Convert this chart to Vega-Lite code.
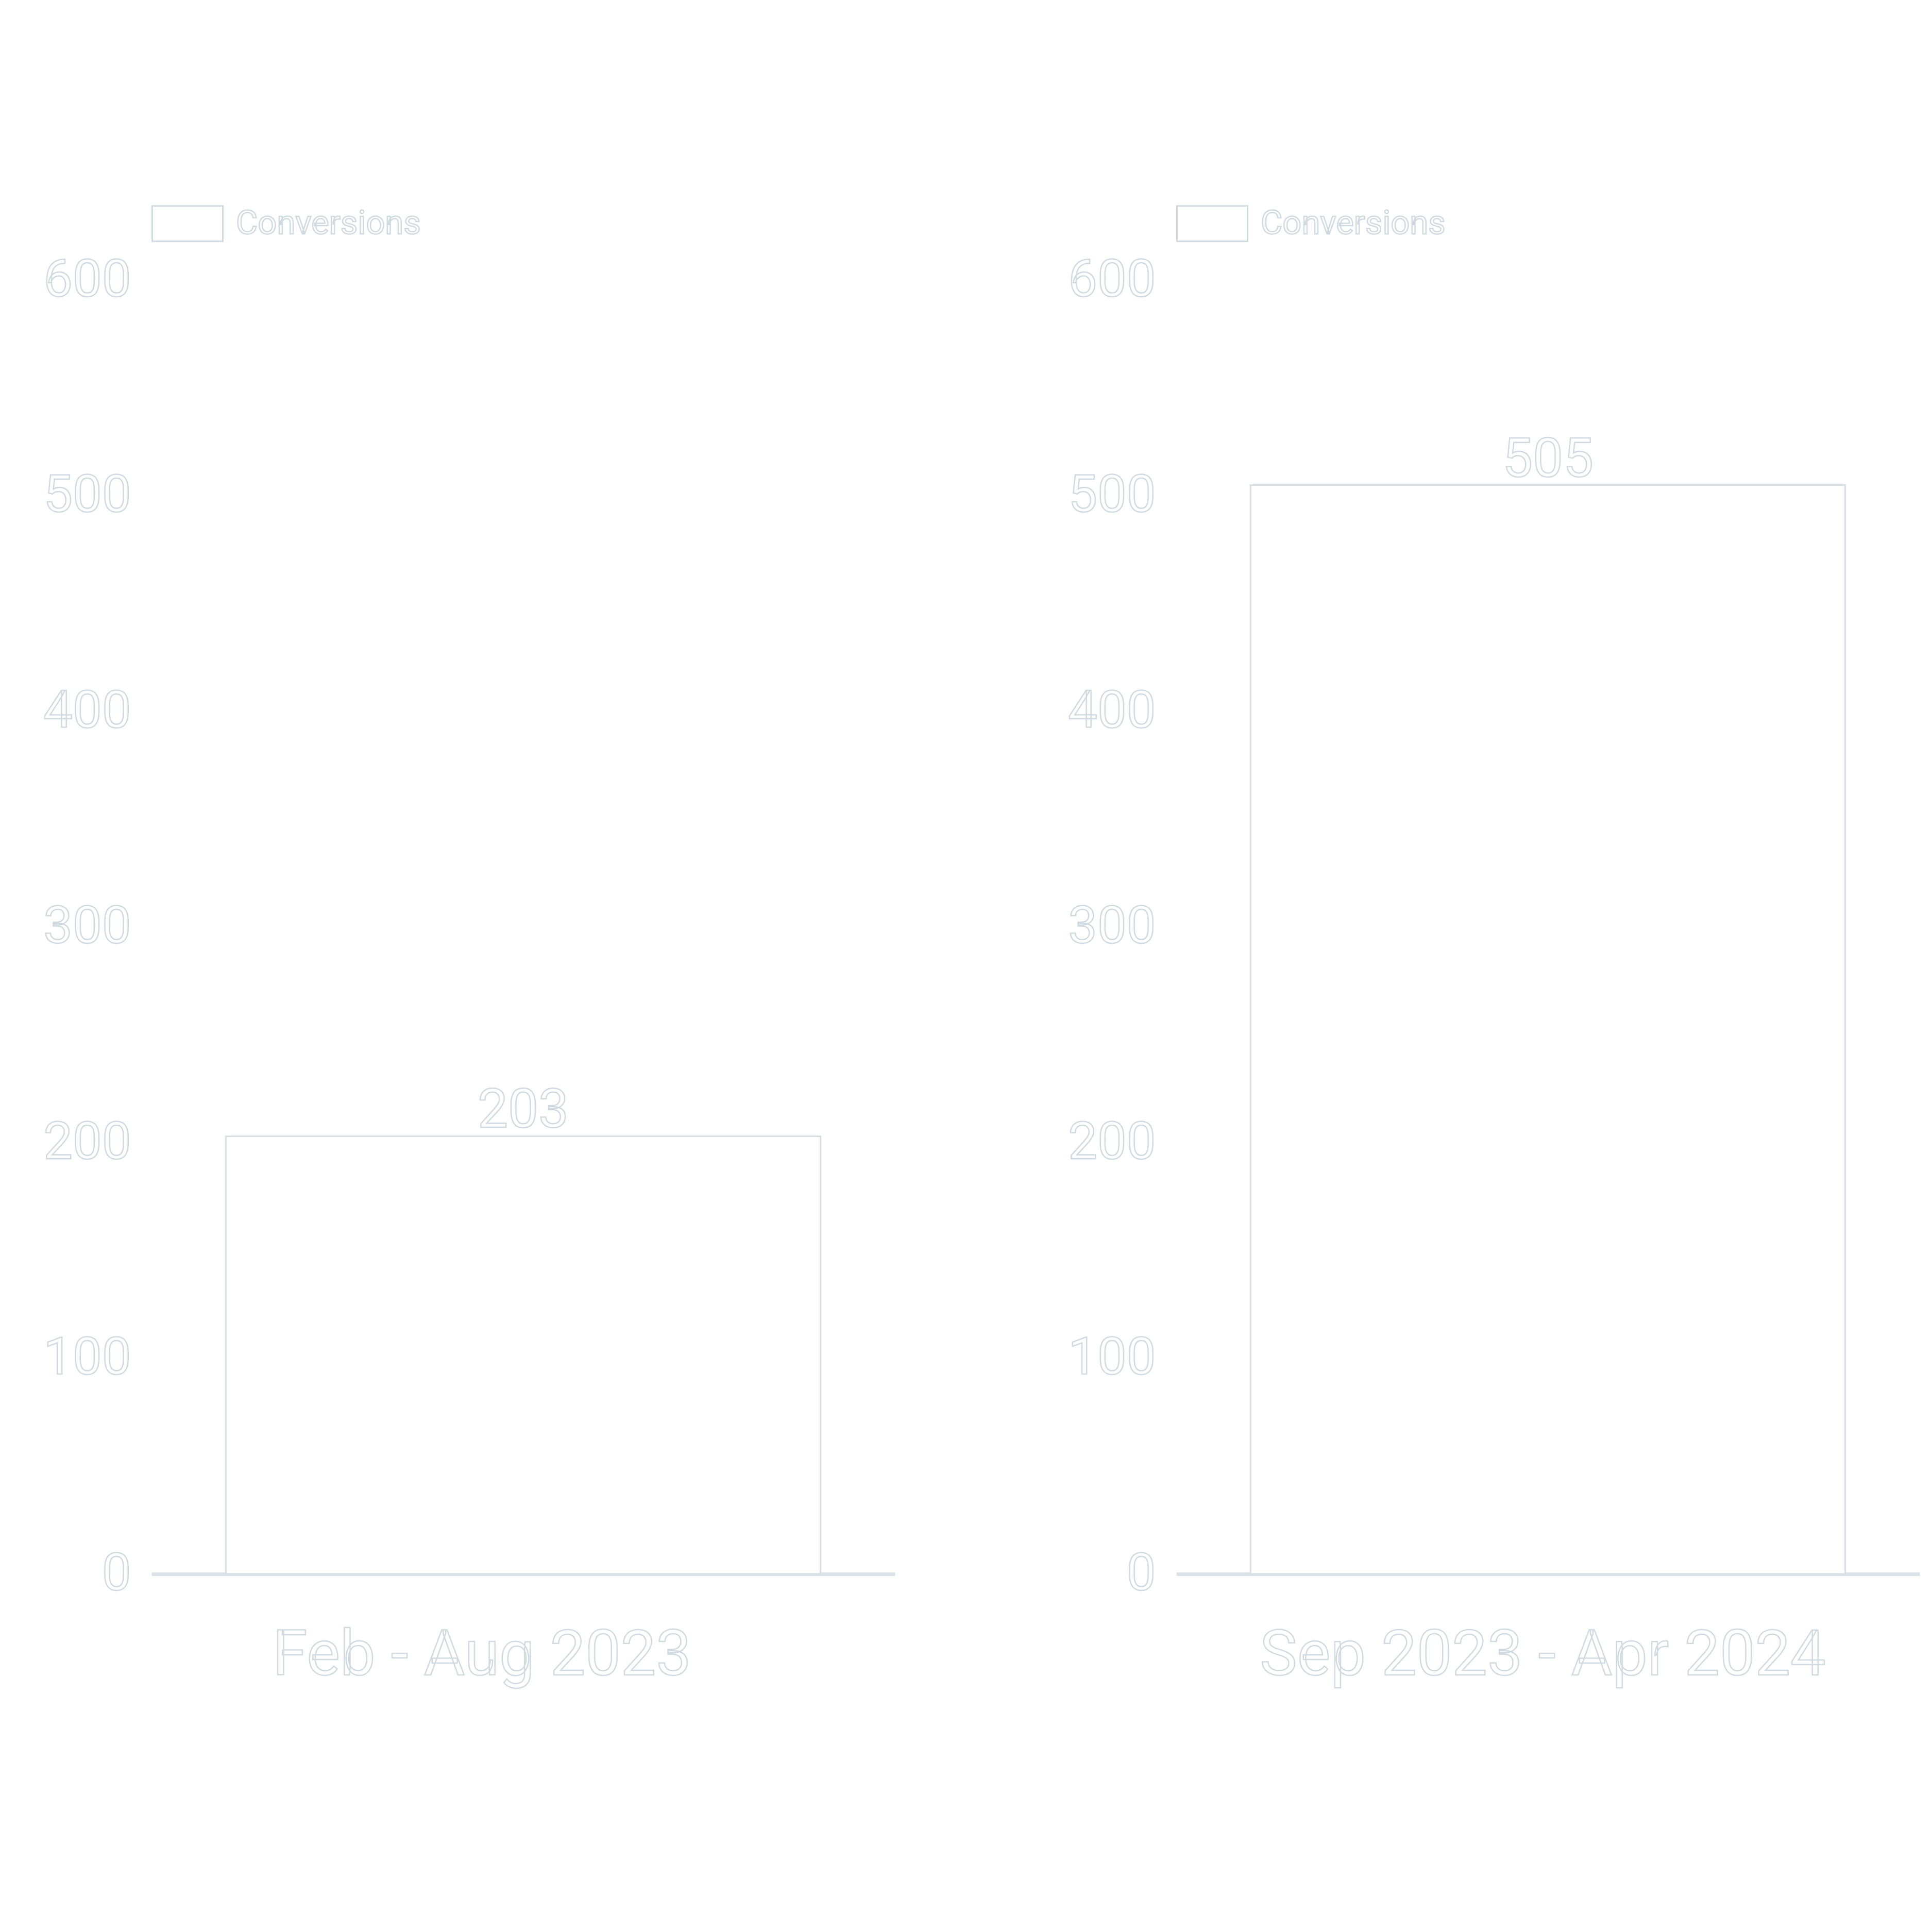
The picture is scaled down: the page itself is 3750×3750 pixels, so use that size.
{
  "$schema": "https://vega.github.io/schema/vega-lite/v6.json",
  "background": "white",
  "padding": {"left": 83, "top": 364, "right": 10, "bottom": 10},
  "data": {
    "values": [
      {"period": "Feb - Aug 2023", "conversions": 203, "series": "Conversions"},
      {"period": "Sep 2023 - Apr 2024", "conversions": 505, "series": "Conversions"}
    ]
  },
  "spacing": 335,
  "resolve": {"legend": {"color": "independent"}},
  "hconcat": [
    {
      "width": 1443,
      "height": 2511,
      "transform": [{"filter": "datum.period == 'Feb - Aug 2023'"}],
      "encoding": {
        "x": {
          "field": "period",
          "type": "nominal",
          "scale": {"paddingInner": 0.2, "paddingOuter": 0.1},
          "axis": {
            "title": null,
            "labelAngle": 0,
            "labelFont": "Roboto",
            "labelFontSize": 122,
            "labelColor": "white",
            "labelPadding": 99,
            "labelOffset": -80,
            "labelLimit": 0,
            "ticks": false,
            "domainColor": "#dbe3e8",
            "domainWidth": 7
          }
        },
        "y": {
          "field": "conversions",
          "type": "quantitative",
          "scale": {"domain": [0, 600]},
          "axis": {
            "title": null,
            "values": [0, 100, 200, 300, 400, 500, 600],
            "grid": false,
            "domain": false,
            "ticks": false,
            "labelFont": "Roboto",
            "labelFontSize": 101,
            "labelColor": "white",
            "labelPadding": 40,
            "labelLimit": 0
          }
        }
      },
      "layer": [
        {
          "mark": {"type": "bar", "stroke": "#d6dfe4", "strokeWidth": 3},
          "encoding": {
            "color": {
              "field": "series",
              "type": "nominal",
              "scale": {"range": ["white"]},
              "legend": {
                "title": null,
                "orient": "none",
                "legendX": 0,
                "legendY": -180,
                "symbolType": "M-1,-0.5H1V0.5H-1Z",
                "symbolSize": 18769,
                "symbolStrokeColor": "#d0dbe1",
                "symbolStrokeWidth": 3,
                "labelFont": "Roboto",
                "labelFontSize": 65,
                "labelColor": "white",
                "labelOffset": 24,
                "labelLimit": 0
              }
            }
          }
        },
        {
          "mark": {
            "type": "text",
            "font": "Roboto",
            "fontSize": 105,
            "baseline": "alphabetic",
            "dy": -17,
            "fill": "white",
            "stroke": "#d0dbe1",
            "strokeWidth": 2.5
          },
          "encoding": {"text": {"field": "conversions", "type": "quantitative"}}
        }
      ]
    },
    {
      "width": 1443,
      "height": 2511,
      "transform": [{"filter": "datum.period == 'Sep 2023 - Apr 2024'"}],
      "encoding": {
        "x": {
          "field": "period",
          "type": "nominal",
          "scale": {"paddingInner": 0.2, "paddingOuter": 0.1},
          "axis": {
            "title": null,
            "labelAngle": 0,
            "labelFont": "Roboto",
            "labelFontSize": 122,
            "labelColor": "white",
            "labelPadding": 99,
            "labelOffset": -10,
            "labelLimit": 0,
            "ticks": false,
            "domainColor": "#dbe3e8",
            "domainWidth": 7
          }
        },
        "y": {
          "field": "conversions",
          "type": "quantitative",
          "scale": {"domain": [0, 600]},
          "axis": {
            "title": null,
            "values": [0, 100, 200, 300, 400, 500, 600],
            "grid": false,
            "domain": false,
            "ticks": false,
            "labelFont": "Roboto",
            "labelFontSize": 101,
            "labelColor": "white",
            "labelPadding": 40,
            "labelLimit": 0
          }
        }
      },
      "layer": [
        {
          "mark": {"type": "bar", "stroke": "#d6dfe4", "strokeWidth": 3},
          "encoding": {
            "color": {
              "field": "series",
              "type": "nominal",
              "scale": {"range": ["white"]},
              "legend": {
                "title": null,
                "orient": "none",
                "legendX": 0,
                "legendY": -180,
                "symbolType": "M-1,-0.5H1V0.5H-1Z",
                "symbolSize": 18769,
                "symbolStrokeColor": "#d0dbe1",
                "symbolStrokeWidth": 3,
                "labelFont": "Roboto",
                "labelFontSize": 65,
                "labelColor": "white",
                "labelOffset": 24,
                "labelLimit": 0
              }
            }
          }
        },
        {
          "mark": {
            "type": "text",
            "font": "Roboto",
            "fontSize": 105,
            "baseline": "alphabetic",
            "dy": -17,
            "fill": "white",
            "stroke": "#d0dbe1",
            "strokeWidth": 2.5
          },
          "encoding": {"text": {"field": "conversions", "type": "quantitative"}}
        }
      ]
    }
  ],
  "config": {
    "view": {"stroke": null},
    "style": {
      "guide-label": {"stroke": "#d0dbe1", "strokeWidth": 2.5}
    }
  }
}
